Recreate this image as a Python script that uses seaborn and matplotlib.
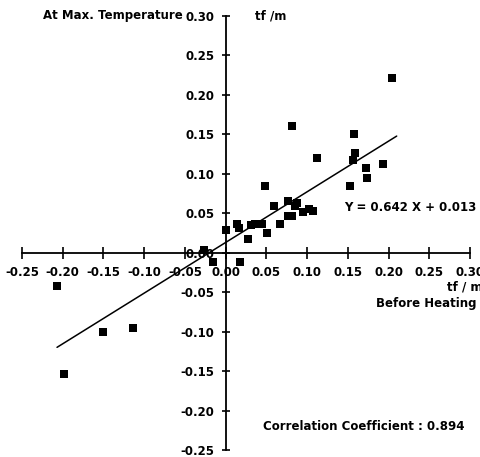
import matplotlib
matplotlib.use("Agg")
import matplotlib.pyplot as plt
import seaborn as sns
import numpy as np
import pandas as pd

before_heating = [-0.207, -0.199, -0.150, -0.114, -0.027, -0.016, 0.001, 0.014, 0.017, 0.018,
                  0.028, 0.031, 0.036, 0.045, 0.048, 0.051, 0.059, 0.067, 0.076, 0.076,
                  0.081, 0.082, 0.085, 0.088, 0.095, 0.102, 0.107, 0.112, 0.153, 0.156,
                  0.157, 0.159, 0.172, 0.174, 0.193, 0.204]
at_max_temp = [-0.042, -0.154, -0.100, -0.096, 0.004, -0.012, 0.029, 0.037, 0.031, -0.012,
               0.017, 0.035, 0.037, 0.037, 0.085, 0.025, 0.059, 0.036, 0.066, 0.047,
               0.160, 0.047, 0.059, 0.063, 0.052, 0.055, 0.053, 0.120, 0.084, 0.118,
               0.150, 0.126, 0.108, 0.095, 0.113, 0.221]
slope, intercept = 0.642, 0.013
fit_x = [-0.207, 0.21]
fit_y = [slope * v + intercept for v in fit_x]
x_ticks = [-0.25, -0.20, -0.15, -0.10, -0.05, 0.00, 0.05, 0.10, 0.15, 0.20, 0.25, 0.30]
y_ticks = [-0.25, -0.20, -0.15, -0.10, -0.05, 0.00, 0.05, 0.10, 0.15, 0.20, 0.25, 0.30]

sns.set_style("white")
plt.rcParams['font.family'] = ['DejaVu Sans']
plt.rcParams['text.color'] = 'black'

W, H = 481, 457
fig = plt.figure(figsize=(W / 100, H / 100), dpi=100)
left, right, top, bottom = 22, 470, 16, 450
ax = fig.add_axes([left / W, 1 - bottom / H, (right - left) / W, (bottom - top) / H])

df = pd.DataFrame({"x": before_heating, "y": at_max_temp})
sns.scatterplot(data=df, x="x", y="y", marker="s", s=36, color="black",
                edgecolor="black", linewidth=0, ax=ax, zorder=3)
sns.lineplot(x=fit_x, y=fit_y, color="black", linewidth=1.1, ax=ax)

ax.set_xlim(-0.25, 0.30)
ax.set_ylim(-0.25, 0.30)
ax.spines['left'].set_position(('data', 0))
ax.spines['bottom'].set_position(('data', 0))
ax.spines['top'].set_visible(False)
ax.spines['right'].set_visible(False)
for s in ('left', 'bottom'):
    ax.spines[s].set_linewidth(1.3)
    ax.spines[s].set_color('black')
ax.set_xticks(x_ticks)
ax.set_yticks(y_ticks)
ax.set_xticklabels([f"{v:.2f}" for v in x_ticks], fontweight='bold', fontsize=8.5, color='black')
ax.set_yticklabels([f"{v:.2f}" for v in y_ticks], fontweight='bold', fontsize=8.5, color='black')
ax.tick_params(axis='x', bottom=True, direction='inout', length=9, width=1.2, pad=5,
               color='black', labelcolor='black')
ax.tick_params(axis='y', left=True, direction='inout', length=6, width=1.2, pad=5,
               color='black', labelcolor='black')
ax.set_xlabel("")
ax.set_ylabel("")
ax.patch.set_alpha(0)

def ftext(x, y, s, **kw):
    fig.text(x / W, 1 - y / H, s, ha='left', va='center', fontweight='bold',
             fontsize=8.5, color='black', **kw)

ftext(43, 15, "At Max. Temperature")
ftext(255, 16, "tf /m")
ftext(344, 207, "Y = 0.642 X + 0.013")
ftext(447, 287, "tf / m")
ftext(376, 303, "Before Heating")
ftext(263, 427, "Correlation Coefficient : 0.894")

fig.savefig("out.png", dpi=100)
